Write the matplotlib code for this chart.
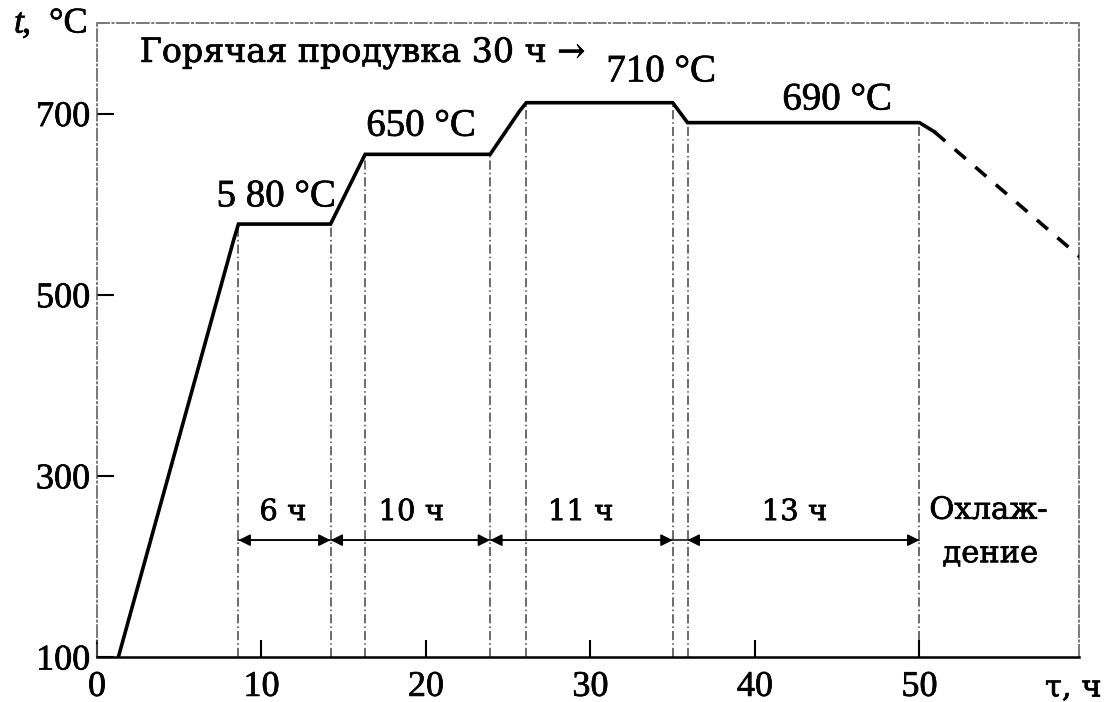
import matplotlib
matplotlib.use("Agg")
import matplotlib.pyplot as plt
import matplotlib.patheffects as pe
import numpy as np

# ---- data ----
# temperature profile (time in h, temperature in °C)
prof_t = [1.3, 8.3, 8.6, 14.2, 16.3, 23.9, 25.7, 26.1, 35.0, 35.9, 50.0, 50.9]
prof_T = [100, 560, 578, 578, 655, 655, 703, 712, 712, 690, 690, 680]
# cooling (dashed)
cool_t = [50.9, 59.8]
cool_T = [680, 541]
# stage boundaries (vertical guide lines)
bounds = [8.6, 14.2, 16.3, 23.9, 26.1, 35.0, 35.9, 50.0]
# duration arrows
arrow_spans = [(8.6, 14.2), (14.2, 23.9), (23.9, 35.0), (35.9, 50.0)]
arrow_labels = ["6 ч", "10 ч", "11 ч", "13 ч"]
arrow_label_x = [11.3, 19.1, 29.4, 42.4]
arrow_T = 229
# plateau labels
plat_labels = ["5 80 °C", "650 °C", "710 °C", "690 °C"]
plat_x = [10.9, 19.7, 34.3, 45.0]
plat_y = [608, 686, 746, 715]
xticks = [0, 10, 20, 30, 40, 50]
yticks = [100, 300, 500, 700]

FONT = "Liberation Serif"
CYR = "DejaVu Serif"
plt.rcParams['font.family'] = [FONT, 'DejaVu Serif']
bold = [pe.withStroke(linewidth=0.5, foreground="black")]

fig = plt.figure(figsize=(11.17, 7.02), dpi=100)
ax = fig.add_axes([97/1117, 45/702, (1079-97)/1117, (657-23)/702])
ax.set_xlim(0, 59.7)
ax.set_ylim(100, 800)

def T_at(x):
    return float(np.interp(x, prof_t, prof_T))

for b in bounds:
    ax.plot([b, b], [100, T_at(b)], color="#444444", lw=1.1,
            ls=(0, (6, 2, 1, 2)), zorder=1)

ax.plot(prof_t, prof_T, color="black", lw=2.6, solid_joinstyle="miter", zorder=3)
ax.plot(cool_t, cool_T, color="black", lw=2.6, ls=(0, (4, 3.5)), zorder=3)

# duration arrows
ax.plot([bounds[0], bounds[-1]], [arrow_T, arrow_T], color="black", lw=1.1, zorder=2)
for (a, b), lab, lx in zip(arrow_spans, arrow_labels, arrow_label_x):
    ax.annotate("", xy=(b, arrow_T), xytext=(a, arrow_T),
                arrowprops=dict(arrowstyle="<|-|>", mutation_scale=18,
                                lw=1.1, color="black", shrinkA=0, shrinkB=0),
                zorder=4)
    ax.text(lx, arrow_T + 31, lab, ha="center", va="center", fontsize=21,
            family=[CYR], path_effects=bold)

for lab, x, y in zip(plat_labels, plat_x, plat_y):
    ax.text(x, y, lab, ha="center", va="center", fontsize=28, path_effects=bold)

ax.text(2.6, 767, "Горячая продувка 30 ч →", ha="left", va="center", fontsize=24,
        family=[CYR], path_effects=bold)
ax.text(50.0 + 0.6, 262, "Охлаж-", ha="left", va="center", fontsize=22,
        family=[CYR], path_effects=bold)
ax.text(50.0 + 1.4, 214, "дение", ha="left", va="center", fontsize=22,
        family=[CYR], path_effects=bold)

# axes styling
for s in ["left", "top", "right"]:
    ax.spines[s].set_linestyle((0, (8, 2, 1, 2)))
    ax.spines[s].set_color("#555555")
    ax.spines[s].set_linewidth(1.1)
ax.spines["bottom"].set_color("black")
ax.spines["bottom"].set_linewidth(1.8)

ax.set_xticks(xticks)
ax.set_yticks(yticks)
ax.tick_params(direction="in", length=12, width=1.5, labelsize=26)
ax.tick_params(axis="y", pad=5)
ax.tick_params(axis="x", pad=10)
for lab in ax.get_xticklabels() + ax.get_yticklabels():
    lab.set_path_effects(bold)

fig.text(14/1117, 1 - 24/702, "t", ha="left", va="center", fontsize=26,
         style="italic", family=FONT, path_effects=bold)
fig.text(22/1117, 1 - 24/702, ",  °C", ha="left", va="center", fontsize=26,
         family=FONT, path_effects=bold)
fig.text(1045/1117, 1 - 688/702, "τ, ч", ha="left", va="center", fontsize=22,
         family=[CYR], path_effects=bold)

fig.savefig("out.png", dpi=100)
